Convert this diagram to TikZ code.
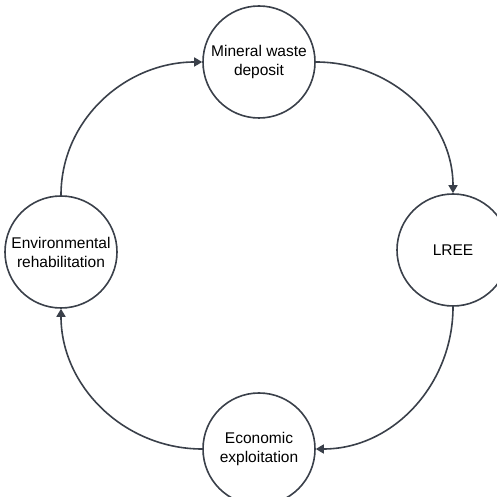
\documentclass[tikz,border=0pt]{standalone}
\usepackage{fontspec}
\setmainfont{Liberation Sans}
\usetikzlibrary{arrows.meta}

\definecolor{cyclegray}{RGB}{58,64,74}

\begin{document}
\begin{tikzpicture}[x=1pt, y=1pt,
	stage/.style={draw=cyclegray, line width=1.6pt, circle, minimum size=112pt, inner sep=0pt, align=center, font=\fontsize{15.5}{19}\selectfont},
	flow/.style={draw=cyclegray, line width=1.6pt, -{Triangle[length=8pt, width=9pt]}}]

	\useasboundingbox (0,0) rectangle (496,497);

	%% Stages
	\node[stage] (waste) at (259,435) {Mineral waste\\deposit};
	\node[stage] (lree) at (453,247) {LREE};
	\node[stage] (econ) at (259,48) {Economic\\exploitation};
	\node[stage] (env) at (61,245) {Environmental\\rehabilitation};

	%% Cycle
	\draw[flow] (waste.east) to[out=0, in=90] (lree.north);
	\draw[flow] (lree.south) to[out=-90, in=0] (econ.east);
	\draw[flow] (econ.west) to[out=180, in=-90] (env.south);
	\draw[flow] (env.north) to[out=90, in=180] (waste.west);

\end{tikzpicture}
\end{document}
